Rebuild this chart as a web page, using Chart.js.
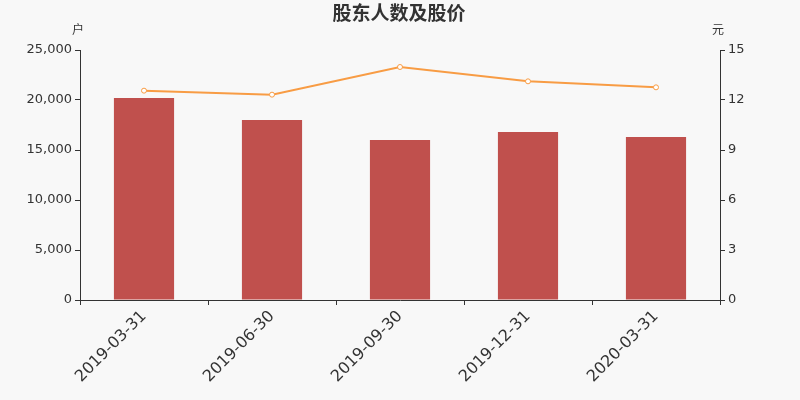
<!DOCTYPE html>
<html>
<head>
<meta charset="utf-8">
<script src="https://cdn.jsdelivr.net/npm/chart.js@4/dist/chart.umd.min.js"></script>
<style>
  html, body { margin: 0; padding: 0; background: #f8f8f8; }
  #wrap { width: 800px; height: 400px; }
</style>
</head>
<body>
<div id="wrap"><canvas id="chartContainer"></canvas></div>
<script>
// data
var dates = ['2019-03-31', '2019-06-30', '2019-09-30', '2019-12-31', '2020-03-31'];
var holders = [20200, 18000, 16000, 16800, 16300];
var prices = [12.56, 12.32, 13.98, 13.12, 12.76];

var labelFont = 'DejaVu Sans, sans-serif';

// title and unit labels
var textPlugin = {
  id: 'texts',
  afterDraw: function(chart) {
    var ctx = chart.ctx;
    var area = chart.chartArea;
    ctx.save();
    ctx.fillStyle = '#333';
    ctx.textAlign = 'center';
    ctx.textBaseline = 'middle';
    ctx.font = 'bold 19px "Noto Sans CJK SC", sans-serif';
    ctx.fillText('股东人数及股价', 399, 13);
    ctx.font = '12px "Noto Sans CJK SC", sans-serif';
    ctx.fillText('户', area.left - 2, 29);
    ctx.fillText('元', area.right - 2, 29);
    ctx.restore();
  }
};

var ctx = document.getElementById('chartContainer').getContext('2d');
var myChart = new Chart(ctx, {
  data: {
    labels: dates,
    datasets: [{
      type: 'line',
      label: '股价',
      data: prices,
      yAxisID: 'y1',
      borderColor: '#f89c44',
      borderWidth: 2,
      pointRadius: 2.5,
      pointBorderWidth: 1,
      pointBackgroundColor: '#ffffff',
      pointBorderColor: '#f89c44',
      tension: 0,
      order: 0
    }, {
      type: 'bar',
      label: '股东人数',
      data: holders,
      yAxisID: 'y',
      backgroundColor: '#c0504d',
      categoryPercentage: 0.94,
      barPercentage: 0.5,
      order: 1
    }]
  },
  options: {
    responsive: true,
    maintainAspectRatio: false,
    animation: false,
    layout: { padding: { top: 50, left: 0, right: 0, bottom: 0 } },
    plugins: {
      legend: { display: false },
      title: { display: false },
      tooltip: { enabled: false }
    },
    scales: {
      x: {
        grid: { display: true, drawOnChartArea: false, drawTicks: true, tickLength: 5, color: '#333', offset: true },
        border: { color: '#333', width: 1 },
        ticks: {
          color: '#333',
          font: { family: labelFont, size: 16 },
          minRotation: 45,
          maxRotation: 45,
          padding: 2
        },
        afterFit: function(scale) { scale.height = 100; }
      },
      y: {
        position: 'left',
        min: 0,
        max: 25000,
        grid: { display: true, drawOnChartArea: false, drawTicks: true, tickLength: 5, color: '#333' },
        border: { color: '#333', width: 1 },
        ticks: {
          stepSize: 5000,
          color: '#333',
          font: { family: labelFont, size: 13 },
          padding: 3,
          callback: function(v) { return v.toLocaleString('en-US'); }
        },
        afterFit: function(scale) { scale.width = 80; }
      },
      y1: {
        position: 'right',
        min: 0,
        max: 15,
        grid: { display: true, drawOnChartArea: false, drawTicks: true, tickLength: 5, color: '#333' },
        border: { color: '#333', width: 1 },
        ticks: {
          stepSize: 3,
          color: '#333',
          font: { family: labelFont, size: 13 },
          padding: 3
        },
        afterFit: function(scale) { scale.width = 80; }
      }
    }
  },
  plugins: [textPlugin]
});
</script>
</body>
</html>
